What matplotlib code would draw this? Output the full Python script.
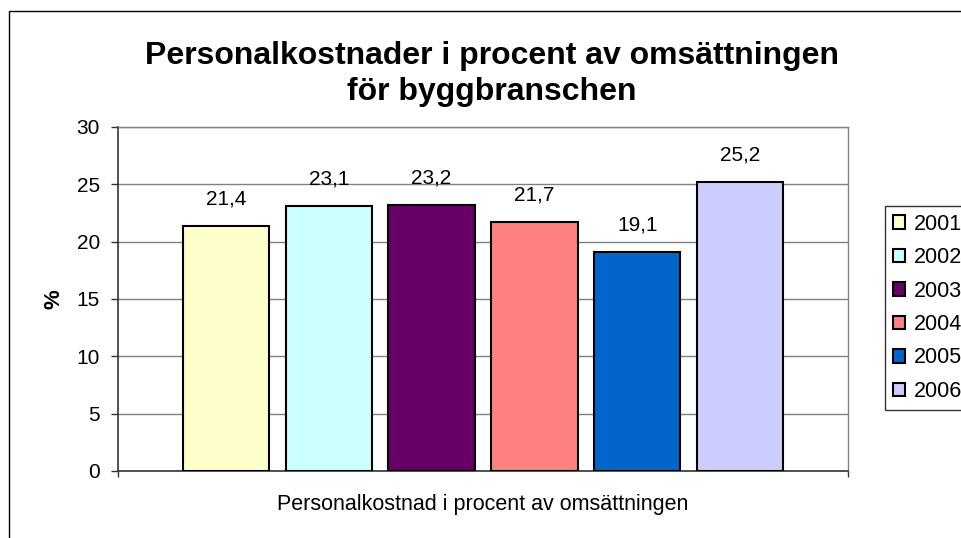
import matplotlib
matplotlib.use("Agg")
import matplotlib.pyplot as plt
from matplotlib.patches import Rectangle

# data
years = ['2001', '2002', '2003', '2004', '2005', '2006']
values = [21.4, 23.1, 23.2, 21.7, 19.1, 25.2]
colors = ['#FFFFCC', '#CCFFFF', '#660066', '#FF8080', '#0066CC', '#CCCCFF']
yticks = [0, 5, 10, 15, 20, 25, 30]

plt.rcParams['font.family'] = ['Liberation Sans', 'DejaVu Sans']

W, H = 962, 538
fig = plt.figure(figsize=(W / 100, H / 100), dpi=100)
ax = fig.add_axes([118 / W, 1 - 471 / H, (848 - 118) / W, (471 - 127) / H])

# outer chart border (cut off at right and bottom)
fig.patches.append(Rectangle((9 / W, -0.2), 1.3, 1.2 - 11 / H,
                             transform=fig.transFigure, fill=False,
                             edgecolor='black', linewidth=1.0))

for i, (yr, v, c) in enumerate(zip(years, values, colors)):
    ax.bar(i, v, width=0.84, color=c, edgecolor='black', linewidth=1.5,
           label=yr, zorder=3)
    ax.annotate(f"{v:.1f}".replace('.', ','), (i, v), xytext=(0, 19.4),
                textcoords='offset points', ha='center', va='center',
                fontsize=15)

ax.set_xlim(-1.05, 6.05)
ax.set_ylim(0, 30)
ax.set_yticks(yticks)
ax.yaxis.grid(True, color='#808080', linewidth=1.0, zorder=0)
ax.set_axisbelow(True)
ax.set_xticks([-1.05, 6.05])
ax.set_xticklabels([])
ax.tick_params(axis='y', direction='out', length=5, width=1, color='#333333',
               labelsize=15, pad=8)
ax.tick_params(axis='x', direction='out', length=4, width=1, color='#333333')

for s in ['left', 'bottom']:
    ax.spines[s].set_color('#333333')
    ax.spines[s].set_linewidth(1.2)
for s in ['right', 'top']:
    ax.spines[s].set_color('#808080')
    ax.spines[s].set_linewidth(1.0)

ax.set_xlabel('Personalkostnad i procent av omsättningen', fontsize=15.5,
              labelpad=9)
ax.set_ylabel('%', fontsize=16, fontweight='bold', labelpad=9)

fig.text(492 / W, 1 - 74 / H,
         'Personalkostnader i procent av omsättningen\nför byggbranschen',
         ha='center', va='center', fontsize=23, fontweight='bold',
         linespacing=1.3)

leg = fig.legend(loc='upper left', bbox_to_anchor=(885 / W, 1 - 206 / H),
                 fontsize=15.5, frameon=True, fancybox=False, edgecolor='black',
                 borderaxespad=0, borderpad=0.35, handlelength=0.6,
                 handleheight=0.6, handletextpad=0.4, labelspacing=0.58)
leg.get_frame().set_linewidth(1.0)

fig.savefig('out.png', dpi=100)
